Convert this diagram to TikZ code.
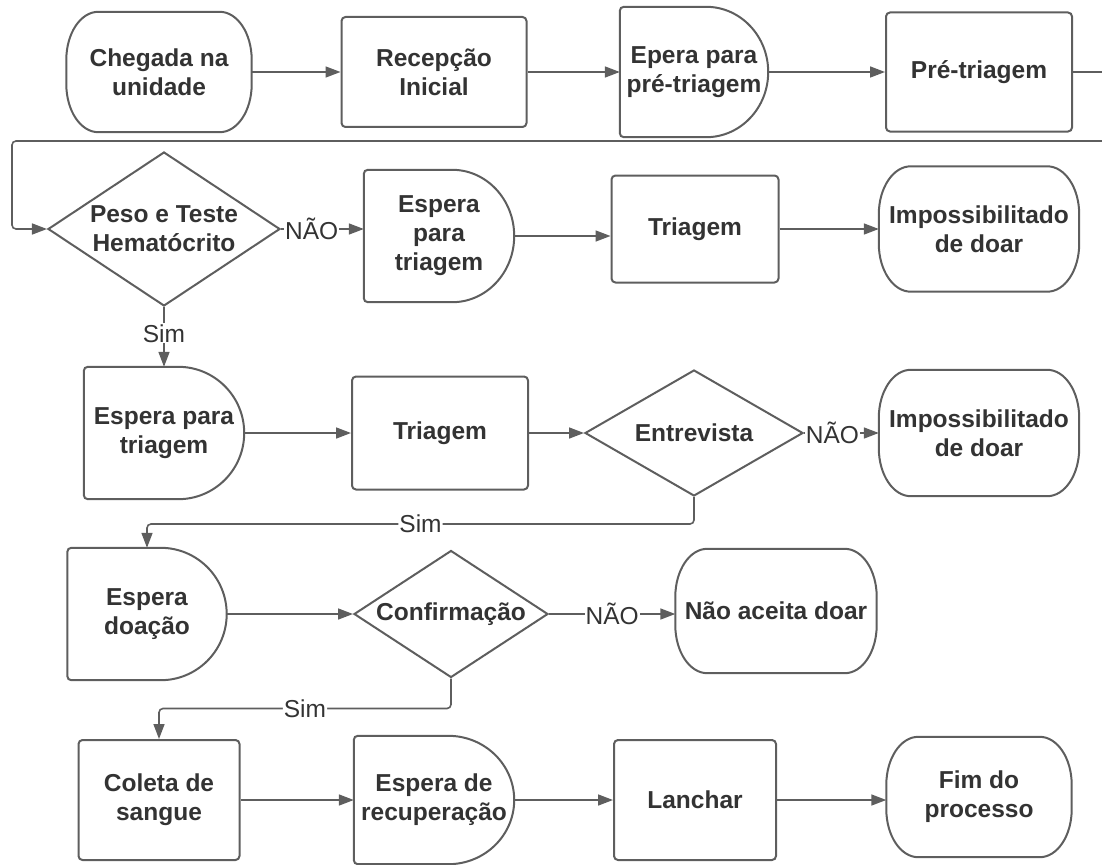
\documentclass[tikz,border=0pt]{standalone}
\usepackage{fontspec}
\setmainfont{Liberation Sans}
\usetikzlibrary{positioning}
\usetikzlibrary{calc}
\usetikzlibrary{arrows.meta}
\usetikzlibrary{shapes.geometric}

\definecolor{linegray}{HTML}{5E5E5E}
\definecolor{textgray}{HTML}{333333}

\tikzset{
  shapeline/.style={draw=linegray, line width=2pt},
  boxtext/.style={align=center, text=textgray, inner sep=0pt, font=\fontsize{24.5}{29}\selectfont\bfseries},
  procbox/.style={boxtext, rectangle, shapeline, rounded corners=4pt},
  waitbox/.style={boxtext, rectangle},
  endbox/.style={boxtext, rectangle},
  choice/.style={boxtext, diamond, shapeline},
  flow/.style={draw=linegray, line width=1.6pt, -{Triangle[length=15pt, width=11pt]}},
  lbl/.style={fill=white, text=textgray, inner sep=1pt, font=\fontsize{24.5}{29}\selectfont}
}

% D-shaped wait box: node name, x radius of the round side
\newcommand{\waitshape}[2]{%
  \draw[shapeline] let \p1=(#1.north), \p2=(#1.center) in
    ([xshift=-#2]#1.north east) -- ([xshift=4pt]#1.north west)
    arc[start angle=90, end angle=180, radius=4pt] -- ([yshift=4pt]#1.south west)
    arc[start angle=180, end angle=270, radius=4pt] -- ([xshift=-#2]#1.south east)
    arc[start angle=-90, end angle=90, x radius=#2, y radius={\y1-\y2}] -- cycle;}

% start / end box with round sides
\newcommand{\termshape}[1]{%
  \draw[shapeline] ([xshift=32pt]#1.north west) -- ([xshift=-32pt]#1.north east)
    arc[start angle=90, end angle=0, x radius=32pt, y radius=48pt] -- ([yshift=48pt]#1.south east)
    arc[start angle=0, end angle=-90, x radius=32pt, y radius=48pt] -- ([xshift=32pt]#1.south west)
    arc[start angle=270, end angle=180, x radius=32pt, y radius=48pt] -- ([yshift=-48pt]#1.north west)
    arc[start angle=180, end angle=90, x radius=32pt, y radius=48pt] -- cycle;}

\begin{document}
\begin{tikzpicture}[x=1pt, y=-1pt]
  \useasboundingbox (0,0) rectangle (1102,864);

  % row 1
  \node[endbox, minimum width=185pt, minimum height=120pt] (cheg) at (159,72) {Chegada na\\unidade};
  \node[procbox, minimum width=185pt, minimum height=110pt] (recep) at (434,72) {Recepção\\Inicial};
  \node[waitbox, minimum width=148pt, minimum height=130pt] (epera) at (694,72) {Epera para\\pré-triagem};
  \node[procbox, minimum width=186pt, minimum height=119pt] (pretri) at (979,72) {Pré-triagem};

  % row 2
  \node[choice, aspect=1.5, minimum width=232pt, minimum height=154pt] (peso) at (164,229) {Peso e Teste\\Hematócrito};
  \node[waitbox, minimum width=150pt, minimum height=132pt] (esptri1) at (439,236) {Espera\\para\\triagem};
  \node[procbox, minimum width=167pt, minimum height=107pt] (tri1) at (695,229) {Triagem};
  \node[endbox, minimum width=200pt, minimum height=125pt] (imp1) at (979,229) {Impossibilitado\\de doar};

  % row 3
  \node[waitbox, minimum width=160pt, minimum height=132pt] (esptri2) at (164,433) {Espera para\\triagem};
  \node[procbox, minimum width=176pt, minimum height=113pt] (tri2) at (440,433) {Triagem};
  \node[choice, aspect=1.73, minimum width=218pt, minimum height=126pt] (entrev) at (694,433) {Entrevista};
  \node[endbox, minimum width=200pt, minimum height=126pt] (imp2) at (979,433) {Impossibilitado\\de doar};

  % row 4
  \node[waitbox, minimum width=159pt, minimum height=132pt] (espdoa) at (147,614) {Espera\\doação};
  \node[choice, aspect=1.53, minimum width=194pt, minimum height=127pt] (confirm) at (451,614) {Confirmação};
  \node[endbox, minimum width=201pt, minimum height=124pt] (naoaceita) at (776,611) {Não aceita doar};

  % row 5
  \node[procbox, minimum width=161pt, minimum height=120pt] (coleta) at (159,800) {Coleta de\\sangue};
  \node[waitbox, minimum width=160pt, minimum height=128pt] (esprec) at (434,800) {Espera de\\recuperação};
  \node[procbox, minimum width=162pt, minimum height=120pt] (lanchar) at (695,800) {Lanchar};
  \node[endbox, minimum width=185pt, minimum height=120pt] (fim) at (979,797) {Fim do\\processo};

  \termshape{cheg}
  \termshape{imp1}
  \termshape{imp2}
  \termshape{naoaceita}
  \termshape{fim}
  \waitshape{epera}{62pt}
  \waitshape{esptri1}{62pt}
  \waitshape{esptri2}{66pt}
  \waitshape{espdoa}{66pt}
  \waitshape{esprec}{66pt}

  \coordinate (loopR) at (1115,141);
  \coordinate (loopL) at (12,141);

  \draw[flow] (cheg) -- (recep);
  \draw[flow] (recep) -- (epera);
  \draw[flow] (epera) -- (pretri);
  \draw[flow, rounded corners=4pt] (pretri) -| (loopR) -- (loopL) |- (peso);

  \draw[flow] (peso.east) -- node[lbl, pos=0.37] {NÃO} (peso.east -| esptri1.west);
  \draw[flow] (esptri1.east) -- (esptri1.east -| tri1.west);
  \draw[flow] (tri1) -- (imp1);
  \draw[flow] (peso) -- node[lbl, pos=0.44] {Sim} (esptri2);

  \draw[flow] (esptri2) -- (tri2);
  \draw[flow] (tri2) -- (entrev);
  \draw[flow] (entrev) -- node[lbl, pos=0.38] {NÃO} (imp2);
  \draw[flow, rounded corners=4pt] (entrev.south) -- ++(0,27) -| node[lbl, pos=0.25] {Sim} (espdoa.north);

  \draw[flow] (espdoa) -- (confirm);
  \draw[flow] (confirm.east) -- node[lbl, pos=0.5] {NÃO} (confirm.east -| naoaceita.west);
  \draw[flow, rounded corners=4pt] (confirm.south) -- ++(0,30) -| node[lbl, pos=0.25] {Sim} (coleta.north);

  \draw[flow] (coleta) -- (esprec);
  \draw[flow] (esprec) -- (lanchar);
  \draw[flow] (lanchar.east) -- (lanchar.east -| fim.west);
\end{tikzpicture}
\end{document}
